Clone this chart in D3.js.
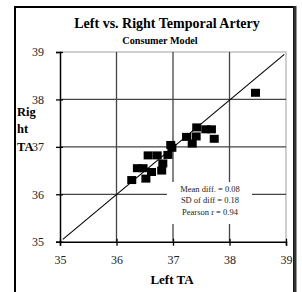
<!DOCTYPE html>
<html>
<head>
<meta charset="utf-8">
<script src="https://cdn.jsdelivr.net/npm/d3@7"></script>
<style>
  body { margin: 0; background: #fff; }
  svg { display: block; font-family: "Liberation Serif", "Times New Roman", serif; }
</style>
</head>
<body>
<script>
/* ---------------------------- data ---------------------------- */
const leftTA  = [36.27, 36.52, 36.37, 36.47, 36.62, 36.56, 36.72, 36.80, 36.82, 36.91,
                 36.96, 36.98, 37.24, 37.34, 37.41, 37.42, 37.58, 37.68, 37.73, 38.46];
const rightTA = [36.30, 36.33, 36.55, 36.55, 36.47, 36.82, 36.82, 36.50, 36.65, 36.83,
                 37.04, 36.98, 37.21, 37.07, 37.22, 37.41, 37.37, 37.37, 37.17, 38.14];
const ticks = [35, 36, 37, 38, 39];
const gridTicks = [36, 37, 38];
const statLines = ["Mean diff. = 0.08", "SD of diff = 0.18", "Pearson r = 0.94"];

/* ---------------------------- layout ---------------------------- */
const width = 302, height = 292;
const plot = { left: 60, right: 286, top: 52, bottom: 241.7 };

const svg = d3.select("body").append("svg")
    .attr("width", width)
    .attr("height", height);

const x = d3.scaleLinear().domain([35, 39]).range([plot.left, plot.right]);
const y = d3.scaleLinear().domain([35, 39]).range([plot.bottom, plot.top]);

// outer frame
svg.append("rect")
    .attr("x", 15).attr("y", 7)
    .attr("width", 279).attr("height", 300)
    .attr("fill", "none")
    .attr("stroke", "#000")
    .attr("stroke-width", 2);
svg.append("line")
    .attr("x1", 295).attr("x2", 295).attr("y1", 6).attr("y2", height)
    .attr("stroke", "#333").attr("stroke-width", 3);

// titles
svg.append("text")
    .attr("x", 167).attr("y", 28)
    .attr("text-anchor", "middle")
    .attr("font-weight", "bold")
    .attr("font-size", 14)
    .text("Left vs. Right Temporal Artery");
svg.append("text")
    .attr("x", 160).attr("y", 44)
    .attr("text-anchor", "middle")
    .attr("font-weight", "bold")
    .attr("font-size", 10.2)
    .text("Consumer Model");

// plot border (light grey top/right)
svg.append("path")
    .attr("d", `M${plot.left},${plot.top}H${plot.right}V${plot.bottom}`)
    .attr("fill", "none")
    .attr("stroke", "#c0c0c0")
    .attr("stroke-width", 1.5);

// gridlines
svg.append("g").selectAll("line")
    .data(gridTicks)
    .join("line")
    .attr("x1", d => x(d)).attr("x2", d => x(d))
    .attr("y1", y(35)).attr("y2", y(39))
    .attr("stroke", "#444").attr("stroke-width", 1.3);
svg.append("g").selectAll("line")
    .data(gridTicks)
    .join("line")
    .attr("x1", x(35)).attr("x2", x(39))
    .attr("y1", d => y(d)).attr("y2", d => y(d))
    .attr("stroke", "#444").attr("stroke-width", 1.3);

// stats box
const box = svg.append("g");
box.append("rect")
    .attr("x", 167).attr("y", 182)
    .attr("width", 85).attr("height", 42)
    .attr("fill", "#fff");
box.selectAll("text")
    .data(statLines)
    .join("text")
    .attr("x", 210)
    .attr("y", (d, i) => 191.5 + i * 11.7)
    .attr("text-anchor", "middle")
    .attr("font-size", 8.5)
    .attr("fill", "#222")
    .text(d => d);

// axes
const fmt = d3.format("d");
const xAxis = svg.append("g")
    .attr("transform", `translate(0,${plot.bottom})`)
    .call(d3.axisBottom(x).tickValues(ticks).tickFormat(fmt).tickSize(4).tickPadding(10));
const yAxis = svg.append("g")
    .attr("transform", `translate(${plot.left},0)`)
    .call(d3.axisLeft(y).tickValues(ticks).tickFormat(fmt).tickSize(4).tickPadding(12));
[xAxis, yAxis].forEach(a => {
    a.attr("font-family", null);
    a.select(".domain").attr("stroke", "#000").attr("stroke-width", 1.5);
    a.selectAll(".tick line").attr("stroke", "#000").attr("stroke-width", 1.3);
    a.selectAll(".tick text")
        .attr("font-size", 12)
        .attr("fill", "#222");
});
// inner half of the tick marks
xAxis.selectAll(".tick").append("line").attr("y2", -3).attr("stroke", "#000").attr("stroke-width", 1.3);
yAxis.selectAll(".tick").append("line").attr("x2", 3).attr("stroke", "#000").attr("stroke-width", 1.3);

// axis titles
svg.append("text")
    .attr("x", 172).attr("y", 284)
    .attr("text-anchor", "middle")
    .attr("font-weight", "bold")
    .attr("font-size", 13)
    .text("Left TA");
svg.append("g").selectAll("text")
    .data(["Rig", "ht", "TA"])
    .join("text")
    .attr("x", 17)
    .attr("y", (d, i) => 116 + i * 17.3)
    .attr("font-weight", "bold")
    .attr("font-size", 12.5)
    .text(d => d);

// identity line
svg.append("line")
    .attr("x1", x(35.05)).attr("y1", y(35.05))
    .attr("x2", x(38.97)).attr("y2", y(38.95))
    .attr("stroke", "#000").attr("stroke-width", 1.1);

// points
const pts = d3.zip(leftTA, rightTA);
svg.append("g").selectAll("rect")
    .data(pts)
    .join("rect")
    .attr("x", d => x(d[0]) - 4.5)
    .attr("y", d => y(d[1]) - 4)
    .attr("width", 9)
    .attr("height", 8)
    .attr("fill", "#000");
</script>
</body>
</html>
